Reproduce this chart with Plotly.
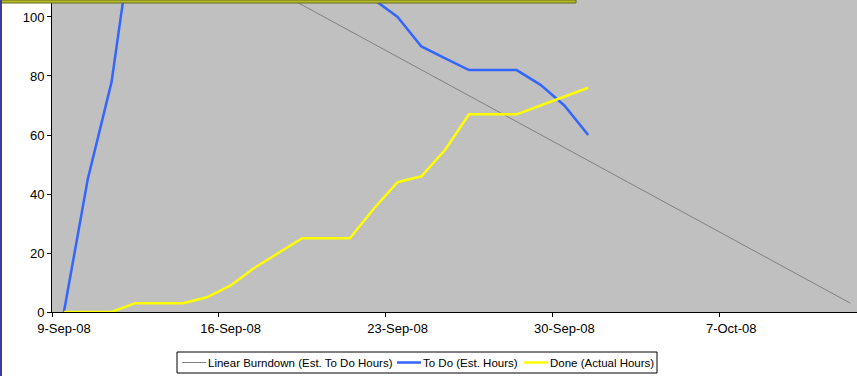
import pandas as pd
import plotly.graph_objects as go

# ---- data ----
dates = ["2008-09-09", "2008-09-10", "2008-09-11", "2008-09-12", "2008-09-13",
         "2008-09-14", "2008-09-15", "2008-09-16", "2008-09-17", "2008-09-18",
         "2008-09-19", "2008-09-20", "2008-09-21", "2008-09-22", "2008-09-23",
         "2008-09-24", "2008-09-25", "2008-09-26", "2008-09-27", "2008-09-28",
         "2008-09-29", "2008-09-30", "2008-10-01"]
todo_hours = [0, 45, 78, 135, 140, 142, 142, 140, 138, 135, 130, 125, 118, 106, 100,
              90, 86, 82, 82, 82, 77, 70, 60]
done_hours = [0, 0, 0, 3, 3, 3, 5, 9, 15, 20, 25, 25, 25, 35, 44,
              46, 55, 67, 67, 67, 70, 73, 76]
burndown_dates = ["2008-09-09", "2008-10-12"]
burndown_hours = [148, 3]

tick_dates = ["2008-09-09", "2008-09-16", "2008-09-23", "2008-09-30", "2008-10-07"]
tick_labels = ["9-Sep-08", "16-Sep-08", "23-Sep-08", "30-Sep-08", "7-Oct-08"]
y_ticks = [0, 20, 40, 60, 80, 100]

series_names = ["Linear Burndown (Est. To Do Hours)", "To Do (Est. Hours)", "Done (Actual Hours)"]
series_colors = ["#808080", "#3366ff", "#ffff00"]
series_widths = [1, 2.5, 2.5]

# points (and date labels) sit in the middle of each day slot (Excel date axis style)
half_day = pd.Timedelta(hours=12)
x_pts = pd.to_datetime(dates) + half_day
x_burn = pd.to_datetime(burndown_dates) + half_day
label_pos = pd.to_datetime(tick_dates) + half_day

FONT = "Liberation Sans, Arial, sans-serif"
W, H = 857, 376
ML, MB = 52, 64
PW = W - ML

fig = go.Figure()
for xs, ys, nm, col, lw in zip([x_burn, x_pts, x_pts],
                               [burndown_hours, todo_hours, done_hours],
                               series_names, series_colors, series_widths):
    fig.add_trace(go.Scatter(x=xs, y=ys, mode="lines", name=nm,
                             line=dict(color=col, width=lw), showlegend=False))

# ---- custom legend (Excel style: short line samples, boxed) ----
shapes = [
    # olive title box edge at top
    dict(type="rect", xref="paper", yref="paper",
         xsizemode="pixel", ysizemode="pixel", xanchor=0, yanchor=1,
         x0=-ML, x1=524, y0=0, y1=-3,
         fillcolor="#b4bc24", line=dict(color="#6b6b20", width=1), layer="above"),
    # dark blue bar at the left edge
    dict(type="rect", xref="paper", yref="paper",
         xsizemode="pixel", ysizemode="pixel", xanchor=0, yanchor=0,
         x0=-ML, x1=-ML + 2, y0=-MB, y1=H - MB,
         fillcolor="#3c3ca0", line=dict(width=0), layer="above"),
    # legend box
    dict(type="rect", xref="paper", yref="paper",
         xsizemode="pixel", ysizemode="pixel", xanchor=0, yanchor=0,
         x0=125, x1=605, y0=-61, y1=-40,
         fillcolor="white", line=dict(color="black", width=1), layer="above"),
]
annotations = []
sample_x = [130, 345, 472]
text_x = [155, 370, 497]
for sx, tx, nm, col, lw in zip(sample_x, text_x, series_names, series_colors, series_widths):
    shapes.append(dict(type="line", xref="paper", yref="paper",
                       xsizemode="pixel", ysizemode="pixel", xanchor=0, yanchor=0,
                       x0=sx, x1=sx + 24, y0=-50.5, y1=-50.5,
                       line=dict(color=col, width=lw), layer="above"))
    annotations.append(dict(text=nm, xref="paper", yref="paper",
                            x=tx / PW, y=0, yshift=-50.5,
                            xanchor="left", yanchor="middle", showarrow=False,
                            borderpad=0, font=dict(size=11.5, family=FONT, color="black")))

fig.update_layout(
    width=W, height=H,
    margin=dict(l=ML, r=0, t=0, b=MB, autoexpand=False),
    paper_bgcolor="white",
    plot_bgcolor="#c0c0c0",
    font=dict(family=FONT, size=13, color="black"),
    showlegend=False,
    xaxis=dict(type="date",
               range=["2008-09-09 00:00", "2008-10-12 18:43"],
               tickmode="array", tickvals=label_pos, ticktext=tick_labels,
               showgrid=False, zeroline=False,
               showline=True, linecolor="black", linewidth=1,
               ticks="outside", ticklen=0, tickcolor="black", tickwidth=1,
               ticklabelstandoff=4,
               minor=dict(ticks="outside", ticklen=4, tickcolor="black", tickwidth=1,
                          tickmode="array", tickvals=tick_dates, showgrid=False),
               layer="below traces"),
    yaxis=dict(range=[0, 105.76], tickmode="array", tickvals=y_ticks,
               showgrid=False, zeroline=False,
               showline=True, linecolor="black", linewidth=1,
               ticks="outside", ticklen=4, tickcolor="black", tickwidth=1,
               layer="below traces"),
    shapes=shapes,
    annotations=annotations,
)

fig.write_html("out.html", config={"displayModeBar": False},
               post_script="document.body.style.margin='0';document.body.style.overflow='hidden';")
